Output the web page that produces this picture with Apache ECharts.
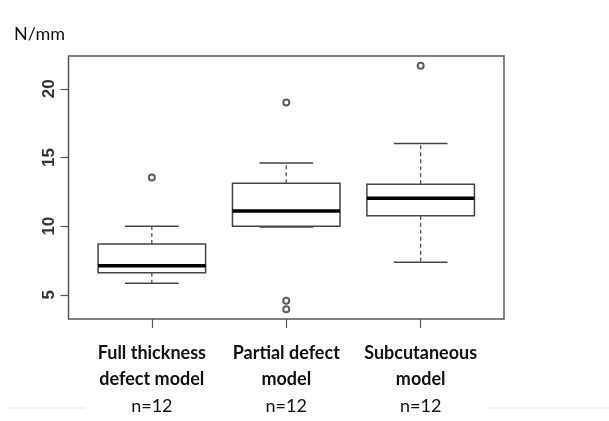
<!DOCTYPE html>
<html>
<head>
<meta charset="utf-8">
<script src="https://cdn.jsdelivr.net/npm/echarts@6/dist/echarts.min.js"></script>
<style>
  html, body { margin: 0; padding: 0; background: #fff; }
  #main { width: 609px; height: 421px; }
</style>
</head>
<body>
<div id="main"></div>
<script>
// box plot stats (N/mm)
var categories = ['Full thickness\ndefect model', 'Partial defect\nmodel', 'Subcutaneous\nmodel'];
var sampleSizes = [12, 12, 12];
var whiskerLow = [5.85, 9.93, 7.38];
var quartile1 = [6.6, 10.0, 10.75];
var medians = [7.11, 11.11, 12.04];
var quartile3 = [8.71, 13.13, 13.06];
var whiskerHigh = [10.0, 14.59, 16.02];
// outliers as [group, value]
var outliers = [[1, 13.54], [2, 19.0], [2, 4.56], [2, 3.95], [3, 21.68]];
var yTicks = [5, 10, 15, 20];

var boxData = categories.map(function (c, i) {
  return [i + 1, whiskerLow[i], quartile1[i], medians[i], quartile3[i], whiskerHigh[i]];
});

var chart = echarts.init(document.getElementById('main'));
var lineCol = '#444';

function renderBox(params, api) {
  var x = api.value(0);
  var lo = api.coord([x, api.value(1)]);
  var q1 = api.coord([x, api.value(2)]);
  var md = api.coord([x, api.value(3)]);
  var q3 = api.coord([x, api.value(4)]);
  var hi = api.coord([x, api.value(5)]);
  var half = api.size([0.8, 0])[0] / 2;
  var cap = api.size([0.4, 0])[0] / 2;
  var cx = lo[0];
  var dash = { stroke: lineCol, lineWidth: 1.2, lineDash: [4, 3] };
  var solid = { stroke: lineCol, lineWidth: 1.5 };
  return {
    type: 'group',
    children: [
      { type: 'line', shape: { x1: cx, y1: q3[1], x2: cx, y2: hi[1] }, style: dash },
      { type: 'line', shape: { x1: cx, y1: q1[1], x2: cx, y2: lo[1] }, style: dash },
      { type: 'line', shape: { x1: cx - cap, y1: hi[1], x2: cx + cap, y2: hi[1] }, style: solid },
      { type: 'line', shape: { x1: cx - cap, y1: lo[1], x2: cx + cap, y2: lo[1] }, style: solid },
      { type: 'rect', shape: { x: cx - half, y: q3[1], width: half * 2, height: q1[1] - q3[1] },
        style: { fill: '#fff', stroke: lineCol, lineWidth: 1.5 } },
      { type: 'line', shape: { x1: cx - half, y1: md[1], x2: cx + half, y2: md[1] },
        style: { stroke: '#000', lineWidth: 3.5 } }
    ]
  };
}

chart.setOption({
  animation: false,
  backgroundColor: '#fff',
  grid: {
    left: 68.5, right: 105, top: 56, bottom: 102,
    show: true, borderColor: '#555', borderWidth: 1.5, backgroundColor: 'transparent'
  },
  graphic: [
    { type: 'text', left: 14, top: 25, style: { text: 'N/mm', font: '18px Lato, sans-serif', fill: '#111' } },
    { type: 'line', shape: { x1: 8, y1: 408, x2: 85, y2: 408 }, style: { stroke: '#e4e4e4', lineWidth: 1 } },
    { type: 'line', shape: { x1: 488, y1: 408, x2: 609, y2: 408 }, style: { stroke: '#e4e4e4', lineWidth: 1 } }
  ],
  xAxis: {
    type: 'value',
    min: 0.38, max: 3.62,
    splitLine: { show: false },
    axisLine: { show: false },
    axisTick: { show: true, customValues: [1, 2, 3], length: 9, lineStyle: { color: '#555', width: 1.2 } },
    axisLabel: {
      customValues: [1, 2, 3],
      margin: 21,
      formatter: function (v) {
        var i = Math.round(v) - 1;
        var lines = categories[i].split('\n');
        return '{b|' + lines[0] + '}\n{b|' + lines[1] + '}\n{n|n=' + sampleSizes[i] + '}';
      },
      rich: {
        b: { fontFamily: 'Lato', fontWeight: 'bold', fontSize: 18, lineHeight: 26, color: '#111' },
        n: { fontFamily: 'Lato', fontSize: 18, lineHeight: 28, color: '#111' }
      }
    }
  },
  yAxis: {
    type: 'value',
    min: 3.24, max: 22.39,
    splitLine: { show: false },
    axisLine: { show: false },
    axisTick: { show: true, customValues: yTicks, length: 8, lineStyle: { color: '#555', width: 1.2 } },
    axisLabel: {
      customValues: yTicks,
      rotate: 90,
      margin: 11,
      fontFamily: 'Liberation Sans',
      fontWeight: 'bold',
      fontSize: 17,
      color: '#333'
    }
  },
  series: [
    {
      type: 'custom',
      renderItem: renderBox,
      encode: { x: 0, y: [1, 2, 3, 4, 5] },
      data: boxData,
      z: 2
    },
    {
      type: 'scatter',
      symbol: 'emptyCircle',
      symbolSize: 6,
      z: 3,
      itemStyle: { color: '#333', borderColor: '#333', borderWidth: 1.1 },
      data: outliers
    }
  ]
});
</script>
</body>
</html>
